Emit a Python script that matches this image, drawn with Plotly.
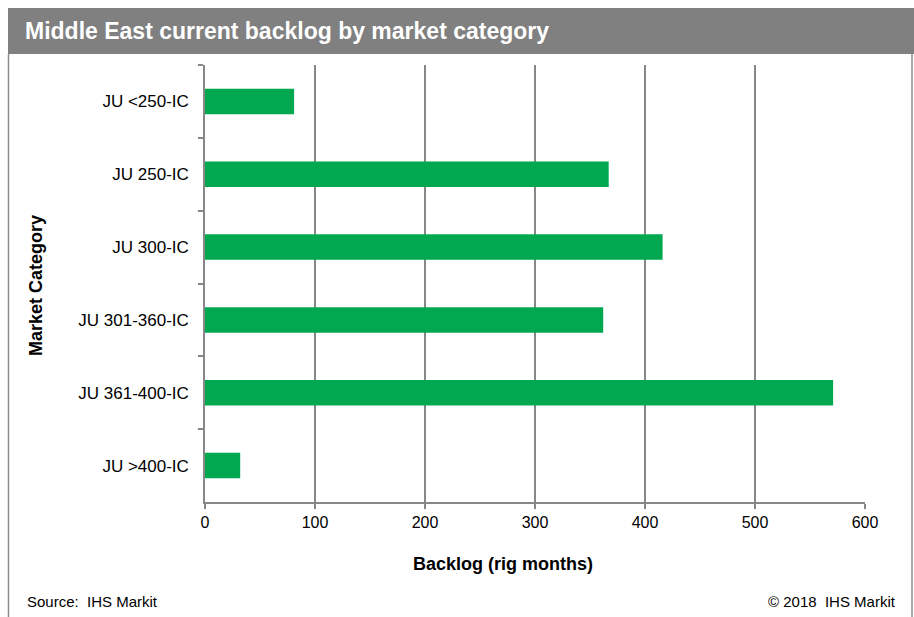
import plotly.graph_objects as go

categories = ["JU <250-IC", "JU 250-IC", "JU 300-IC", "JU 301-360-IC", "JU 361-400-IC", "JU >400-IC"]
backlog = [81, 367, 416, 362, 571, 32]
x_ticks = [0, 100, 200, 300, 400, 500, 600]

title_text = "Middle East current backlog by market category"
x_title = "Backlog (rig months)"
y_title = "Market Category"
source_text = "Source:  IHS Markit"
copyright_text = "\u00a9 2018  IHS Markit"

W, H = 914, 617
L, R, T, B = 205, 49, 65, 115
pw, ph = W - L - R, H - T - B

def px_x(p):
    return (p - L) / pw

def px_y(p):
    return (H - B - p) / ph

FONT = "Liberation Sans, Arial, sans-serif"
GRID = "#878787"

fig = go.Figure(go.Bar(
    x=backlog, y=categories, orientation="h",
    marker=dict(color="#00A94F", line=dict(width=0)),
    width=0.35,
))

fig.update_layout(
    width=W, height=H,
    margin=dict(l=L, r=R, t=T, b=B),
    paper_bgcolor="white", plot_bgcolor="white",
    showlegend=False,
    font=dict(family=FONT, size=16, color="#000000"),
    xaxis=dict(
        range=[0, 600], tickvals=x_ticks, ticktext=[str(v) for v in x_ticks],
        showgrid=True, gridcolor=GRID, gridwidth=1.5,
        showline=True, linecolor=GRID, linewidth=1.5,
        ticks="outside", ticklen=5, tickcolor=GRID, tickwidth=1.5,
        tickfont=dict(size=16, family=FONT),
        zeroline=False,
    ),
    yaxis=dict(
        categoryorder="array", categoryarray=categories, autorange="reversed",
        showgrid=False, showline=True, linecolor=GRID, linewidth=1.5,
        ticks="outside", ticklen=5, tickcolor=GRID, tickwidth=1.5,
        tickson="boundaries",
        tickfont=dict(size=17, family=FONT),
        ticklabelstandoff=11,
        zeroline=False,
    ),
    shapes=[
        dict(type="rect", xref="paper", yref="paper",
             x0=px_x(8), x1=px_x(916), y0=px_y(54), y1=px_y(8),
             fillcolor="#808080", line=dict(width=0), layer="above"),
        dict(type="line", xref="paper", yref="paper",
             x0=px_x(8.5), x1=px_x(8.5), y0=px_y(54), y1=px_y(620),
             line=dict(color="#8c8c8c", width=1.5)),
        dict(type="line", xref="paper", yref="paper",
             x0=px_x(912), x1=px_x(912), y0=px_y(54), y1=px_y(620),
             line=dict(color="#8c8c8c", width=1.5)),
    ],
    annotations=[
        dict(text="<b>" + title_text + "</b>", xref="paper", yref="paper",
             x=px_x(23), y=px_y(31), xanchor="left", yanchor="middle",
             showarrow=False, font=dict(size=23, color="white", family=FONT)),
        dict(text="<b>" + y_title + "</b>", xref="paper", yref="paper",
             x=px_x(36), y=px_y(286), xanchor="center", yanchor="middle",
             textangle=-90, showarrow=False, font=dict(size=18, family=FONT)),
        dict(text="<b>" + x_title + "</b>", xref="paper", yref="paper",
             x=px_x(503), y=px_y(564), xanchor="center", yanchor="middle",
             showarrow=False, font=dict(size=18, family=FONT)),
        dict(text=source_text, xref="paper", yref="paper",
             x=px_x(25), y=px_y(601), xanchor="left", yanchor="middle",
             showarrow=False, font=dict(size=15, family=FONT)),
        dict(text=copyright_text, xref="paper", yref="paper",
             x=px_x(898), y=px_y(601), xanchor="right", yanchor="middle",
             showarrow=False, font=dict(size=15, family=FONT)),
    ],
)

fig.write_html("out.html")
